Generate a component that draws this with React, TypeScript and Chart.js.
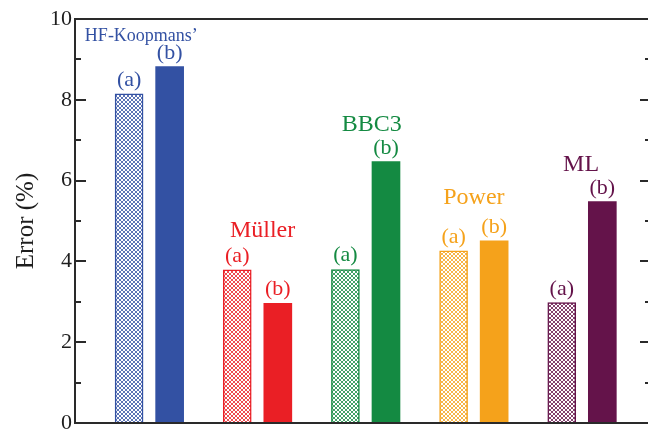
import { useEffect, useRef } from 'react';
import { Chart, registerables } from 'chart.js';

Chart.register(...registerables);

// Error (%) of each method, variant (a) drawn hatched, variant (b) drawn solid
const methods = ['HF-Koopmans\u2019', 'Müller', 'BBC3', 'Power', 'ML'];
const errorsA = [8.15, 3.79, 3.8, 4.26, 2.98];
const errorsB = [8.82, 2.96, 6.47, 4.51, 5.48];
const variantTags = ['(a)', '(b)'];
const yTickValues = [0, 2, 4, 6, 8, 10];
const methodColors = ['#3351a3', '#ea1f25', '#148a42', '#f5a21b', '#64134a'];

const SERIF = '"Liberation Serif", "Times New Roman", "DejaVu Serif", serif';
const AXIS_COLOR = '#2a2a2a';

const CANVAS_W = 660;
const CANVAS_H = 460;
const PLOT_LEFT = 75;
const PLOT_TOP = 19;
const PLOT_RIGHT = 651;
const PLOT_BOTTOM = 423;

function crossHatch(color: string): CanvasPattern | string {
  const tile = document.createElement('canvas');
  tile.width = 4;
  tile.height = 4;
  const g = tile.getContext('2d');
  if (!g) return color;
  g.fillStyle = '#ffffff';
  g.fillRect(0, 0, 4, 4);
  g.globalAlpha = 0.8;
  g.fillStyle = color;
  for (let i = 0; i < 4; i++) {
    g.fillRect(i, i, 1, 1);
    g.fillRect(3 - i, i, 1, 1);
  }
  return g.createPattern(tile, 'repeat') || color;
}

// Frame with inward ticks on left and right, like a classic xmgrace plot
const framePlugin = {
  id: 'frame',
  afterDatasetsDraw(chart: Chart) {
    const { ctx, chartArea } = chart;
    const y = chart.scales.y;
    const { left, right, top, bottom } = chartArea;
    ctx.save();
    ctx.strokeStyle = AXIS_COLOR;
    ctx.lineWidth = 2;
    ctx.beginPath();
    ctx.moveTo(left, top);
    ctx.lineTo(right, top);
    ctx.lineTo(right, bottom);
    ctx.lineTo(left, bottom);
    ctx.closePath();
    ctx.stroke();
    const min = y.min as number;
    const max = y.max as number;
    for (let v = min; v <= max; v += 1) {
      const py = Math.round(y.getPixelForValue(v));
      const len = v % 2 === 0 ? 11 : 6;
      ctx.beginPath();
      ctx.moveTo(left, py);
      ctx.lineTo(left + len, py);
      ctx.moveTo(right, py);
      ctx.lineTo(right - len, py);
      ctx.stroke();
    }
    ctx.restore();
  },
};

// (a)/(b) tags over every bar and the method name over each pair
const nameNudge = [
  [-8, 2],
  [5, -2],
  [6, 0],
  [0, -6],
  [-1, 0],
];
const labelPlugin = {
  id: 'barTags',
  afterDatasetsDraw(chart: Chart) {
    const { ctx } = chart;
    ctx.save();
    ctx.textAlign = 'center';
    ctx.textBaseline = 'alphabetic';
    ctx.font = `22px ${SERIF}`;
    const metaA = chart.getDatasetMeta(0);
    const metaB = chart.getDatasetMeta(1);
    [metaA, metaB].forEach((meta, d) => {
      meta.data.forEach((el: any, i: number) => {
        ctx.fillStyle = methodColors[i];
        ctx.fillText(variantTags[d], el.x, el.y - 8);
      });
    });
    methods.forEach((name, i) => {
      const a: any = metaA.data[i];
      const b: any = metaB.data[i];
      const cx = (a.x + b.x) / 2 + nameNudge[i][0];
      const topY = Math.min(a.y, b.y);
      const size = name.length > 8 ? 18 : 24;
      ctx.font = `${size}px ${SERIF}`;
      ctx.fillStyle = methodColors[i];
      ctx.fillText(name, cx, topY - 31 + nameNudge[i][1] + (size < 24 ? 3 : 0));
    });
    ctx.restore();
  },
};

export default function App() {
  const canvasRef = useRef<HTMLCanvasElement | null>(null);

  useEffect(() => {
    const canvas = canvasRef.current;
    if (!canvas) return;
    const hatched = methodColors.map((c) => crossHatch(c));
    const chart = new Chart(canvas, {
      type: 'bar',
      data: {
        datasets: [
          {
            label: variantTags[0],
            data: errorsA.map((v, i) => ({ x: 1 + 2 * i, y: v })),
            backgroundColor: hatched,
            borderColor: methodColors,
            borderWidth: 1.5,
            barThickness: 28,
          },
          {
            label: variantTags[1],
            data: errorsB.map((v, i) => ({ x: 1.75 + 2 * i, y: v })),
            backgroundColor: methodColors,
            borderWidth: 0,
            barThickness: 28,
          },
        ],
      },
      options: {
        responsive: false,
        animation: false,
        devicePixelRatio: 1,
        grouped: false,
        layout: {
          padding: {
            left: 0,
            top: PLOT_TOP,
            right: CANVAS_W - PLOT_RIGHT,
            bottom: CANVAS_H - PLOT_BOTTOM,
          },
        },
        plugins: {
          legend: { display: false },
          tooltip: { enabled: false },
        },
        scales: {
          x: {
            type: 'linear',
            display: false,
            min: 0,
            max: 10.65,
            offset: false,
          },
          y: {
            min: 0,
            max: 10,
            afterBuildTicks: (scale: any) => {
              scale.ticks = yTickValues.map((v) => ({ value: v }));
            },
            afterFit: (scale: any) => {
              scale.width = PLOT_LEFT;
            },
            grid: { display: false, drawTicks: false },
            border: { display: false },
            ticks: {
              padding: 3,
              color: '#1e1e1e',
              font: { family: SERIF, size: 22 },
            },
            title: {
              display: true,
              text: 'Error (%)',
              color: '#1e1e1e',
              font: { family: SERIF, size: 25 },
              padding: { top: 11, bottom: 0 },
            },
          },
        },
      } as any,
      plugins: [framePlugin, labelPlugin],
    });
    return () => chart.destroy();
  }, []);

  return (
    <div
      style={{
        position: 'fixed',
        left: 0,
        top: 0,
        width: CANVAS_W,
        height: CANVAS_H,
        background: '#ffffff',
      }}
    >
      <canvas ref={canvasRef} width={CANVAS_W} height={CANVAS_H} />
    </div>
  );
}
